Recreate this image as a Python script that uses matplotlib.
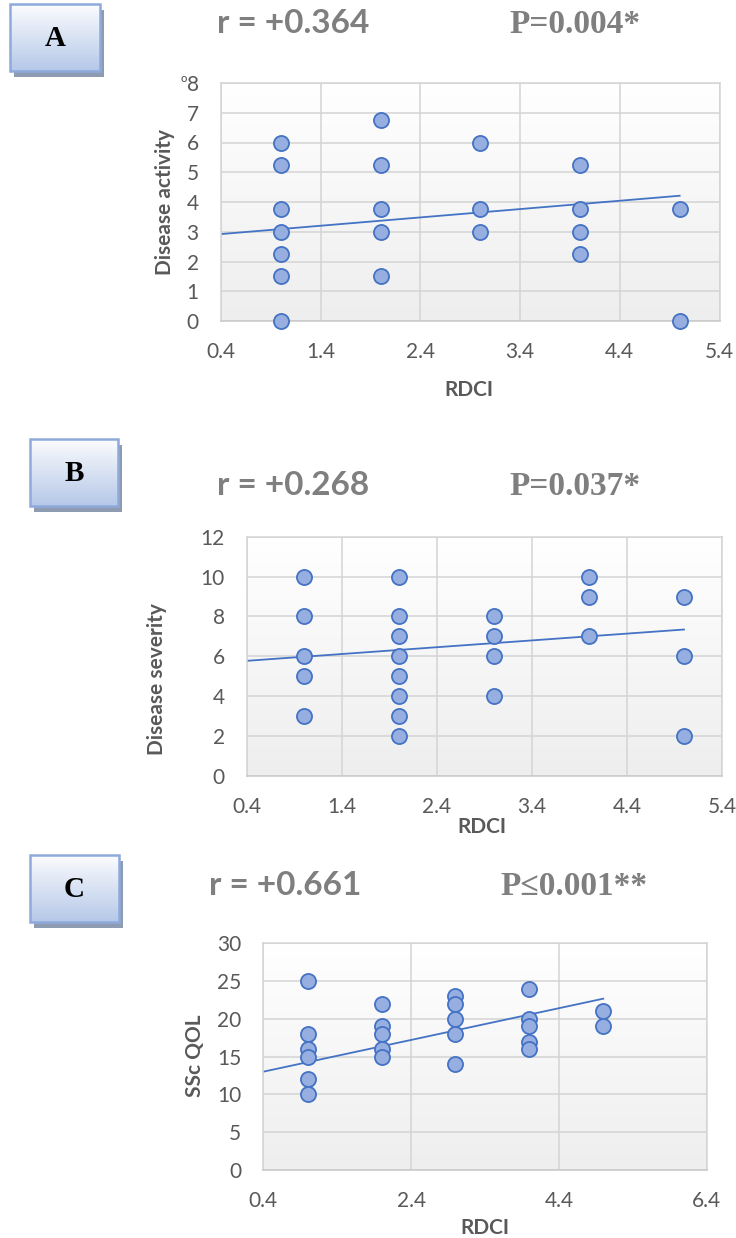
import numpy as np
import matplotlib
matplotlib.use("Agg")
import matplotlib.pyplot as plt
from matplotlib.colors import LinearSegmentedColormap
from matplotlib.patches import Rectangle

# ---------------- data ----------------
rdci_a = [1, 1, 1, 1, 1, 1, 1, 2, 2, 2, 2, 2, 3, 3, 3, 4, 4, 4, 4, 5, 5]
activity = [6, 5.25, 3.75, 3, 2.25, 1.5, 0,
            6.75, 5.25, 3.75, 3, 1.5,
            6, 3.75, 3,
            5.25, 3.75, 3, 2.25,
            3.75, 0]
trend_a = [0.280, 2.81]          # slope, intercept

rdci_b = [1, 1, 1, 1, 1, 2, 2, 2, 2, 2, 2, 2, 2, 3, 3, 3, 3, 4, 4, 4, 5, 5, 5]
severity = [10, 8, 6, 5, 3,
            10, 8, 7, 6, 5, 4, 3, 2,
            8, 7, 6, 4,
            10, 9, 7,
            9, 6, 2]
trend_b = [0.341, 5.64]

rdci_c = [1, 1, 1, 1, 1, 1, 2, 2, 2, 2, 2, 3, 3, 3, 3, 3, 4, 4, 4, 4, 4, 5, 5]
qol = [25, 18, 16, 15, 12, 10,
       22, 19, 18, 16, 15,
       23, 22, 20, 18, 14,
       24, 20, 19, 17, 16,
       21, 19]
trend_c = [2.10, 12.17]

panel_letters = ["A", "B", "C"]
r_texts = ["r = +0.364", "r = +0.268", "r = +0.661"]
p_texts = ["P=0.004*", "P=0.037*", "P\u22640.001**"]
y_labels = ["Disease activity", "Disease severity", "SSc QOL"]
x_label = "RDCI"

# ---------------- figure ----------------
W, H = 736, 1238
DPI = 100
fig = plt.figure(figsize=(W / DPI, H / DPI), dpi=DPI)
fig.patch.set_facecolor("white")

SANS = ["Lato", "DejaVu Sans"]
SERIF = ["Liberation Serif", "DejaVu Serif"]
TICK_C = "#595959"
GRID_C = "#d4d4d4"

bg_cmap = LinearSegmentedColormap.from_list("bg", ["#ffffff", "#eeeeee"])
box_cmap = LinearSegmentedColormap.from_list("bx", ["#fbfcfe", "#b5c8e8"])


def px_rect(l, t, r, b):
    return [l / W, 1 - b / H, (r - l) / W, (b - t) / H]


def panel(rect, xs, ys, trend, xlim, xstep, ylim, ystep):
    ax = fig.add_axes(px_rect(*rect))
    grad = np.linspace(0, 1, 256).reshape(-1, 1)
    ax.imshow(grad, extent=[0, 1, 0, 1], transform=ax.transAxes,
              aspect="auto", cmap=bg_cmap, zorder=0, origin="upper")
    ax.set_xlim(*xlim)
    ax.set_ylim(*ylim)
    xt = np.arange(xlim[0], xlim[1] + 1e-9, xstep)
    yt = np.arange(ylim[0], ylim[1] + 1e-9, ystep)
    ax.set_xticks(xt)
    ax.set_xticklabels([f"{v:.1f}" for v in xt])
    ax.set_yticks(yt)
    ax.set_yticklabels([f"{v:g}" for v in yt])
    ax.set_axisbelow(True)
    ax.grid(True, color=GRID_C, lw=1.1)
    for s in ax.spines.values():
        s.set_color(GRID_C)
        s.set_linewidth(1.1)
    ax.spines["bottom"].set_color("#c8c8c8")
    ax.tick_params(length=0, labelsize=15, labelcolor=TICK_C, pad=15)
    ax.tick_params(axis="y", pad=16)
    for lab in ax.get_xticklabels() + ax.get_yticklabels():
        lab.set_family(SANS)
    xx = np.array([xlim[0], max(xs)])
    ax.plot(xx, trend[0] * xx + trend[1], color="#4472c4", lw=1.3, zorder=2)
    ax.scatter(xs, ys, s=118, c="#97aee0", edgecolors="#4472c4",
               linewidths=1.3, zorder=3, clip_on=False)
    return ax


panel((221, 83, 719.5, 321), rdci_a, activity, trend_a, (0.4, 5.4), 1.0, (0, 8), 1)
panel((247, 536.7, 722, 776), rdci_b, severity, trend_b, (0.4, 5.4), 1.0, (0, 12), 2)
panel((263.3, 943.3, 706.7, 1170), rdci_c, qol, trend_c, (0.4, 6.4), 2.0, (0, 30), 5)

# ---------------- overlay: boxes, headers, axis titles ----------------
ov = fig.add_axes([0, 0, 1, 1], zorder=-1)
ov.set_xlim(0, W)
ov.set_ylim(H, 0)
ov.axis("off")

boxes = [(10, 4, 100, 71), (30, 439, 118, 506), (30, 855, 119, 922)]
for (x0, y0, x1, y1), letter in zip(boxes, panel_letters):
    ov.add_patch(Rectangle((x0 + 4, y0 + 6), x1 - x0, y1 - y0,
                           facecolor="#8e9cb2", edgecolor="none", zorder=1))
    grad = np.linspace(0, 1, 256).reshape(-1, 1)
    ov.imshow(grad, extent=(x0, x1, y1, y0), aspect="auto", cmap=box_cmap,
              origin="upper", zorder=2)
    ov.add_patch(Rectangle((x0, y0), x1 - x0, y1 - y0, facecolor="none",
                           edgecolor="#8eaadb", lw=1.8, zorder=3))
    ov.text((x0 + x1) / 2, (y0 + y1) / 2 + 1, letter, ha="center",
            va="center", fontsize=21, fontweight="bold", color="black",
            family=SERIF, zorder=4)
ov.set_xlim(0, W)
ov.set_ylim(H, 0)

head_y = [33, 495, 895]
r_x = [217, 217, 209]
p_x = [509, 509, 500]
for ry, rx, px, rt, pt in zip(head_y, r_x, p_x, r_texts, p_texts):
    ov.text(rx, ry, rt, ha="left", va="baseline", fontsize=24,
            fontweight="bold", color="#7f7f7f", family=SANS)
    ov.text(px, ry, pt, ha="left", va="baseline", fontsize=24,
            fontweight="bold", color="#7f7f7f", family=SERIF)

ov.text(184, 79, "o", ha="center", va="center", fontsize=8,
        color="#404040", family=SANS)

ylab_pos = [(165, 202), (157, 679), (195, 1056)]
for (lx, ly), lab in zip(ylab_pos, y_labels):
    ov.text(lx, ly, lab, rotation=90, ha="center", va="center", fontsize=15,
            fontweight="bold", color=TICK_C, family=SANS)

xlab_pos = [(469, 390), (482, 827), (485, 1228)]
for lx, ly in xlab_pos:
    ov.text(lx, ly, x_label, ha="center", va="center", fontsize=15,
            fontweight="bold", color=TICK_C, family=SANS)

fig.savefig("out.png", dpi=DPI, facecolor="white")
